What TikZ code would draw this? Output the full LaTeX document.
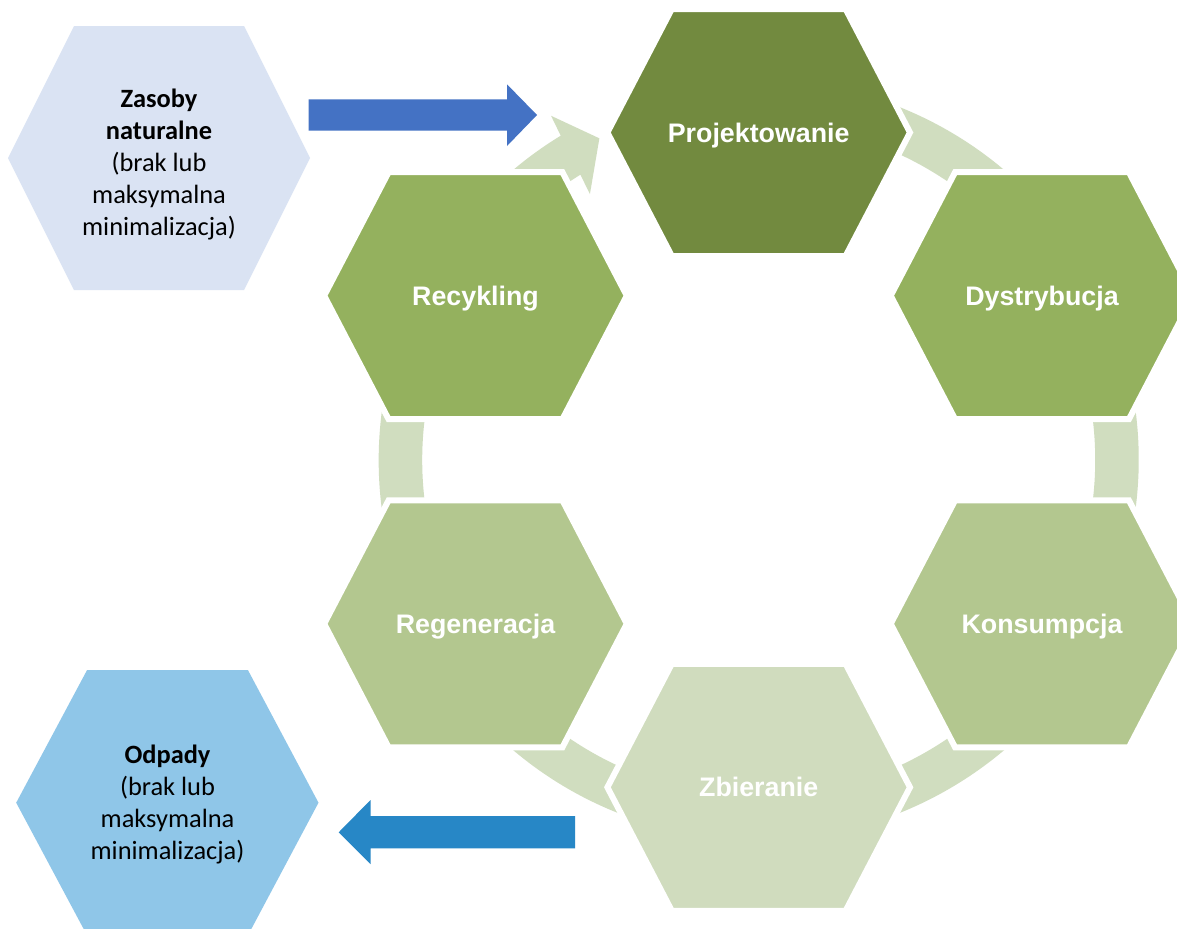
\documentclass[tikz,border=0pt]{standalone}
\usepackage{fontspec}
\setmainfont{Carlito}
\newfontfamily\lsans{Liberation Sans}
\usetikzlibrary{calc}
\definecolor{gDark}{RGB}{114,138,63}
\definecolor{gMid}{RGB}{148,177,94}
\definecolor{gLight}{RGB}{179,199,143}
\definecolor{gPale}{RGB}{208,220,190}
\definecolor{ringc}{RGB}{208,221,191}
\definecolor{zasc}{RGB}{218,227,243}
\definecolor{odpc}{RGB}{143,198,232}
\definecolor{arrA}{RGB}{68,114,196}
\definecolor{arrB}{RGB}{39,135,198}
\newcommand\ghexa[2]{\path[ghex, fill=#2, shift={#1}] (-151.3,0) -- (-86.9,-123.5) -- (86.9,-123.5) -- (151.3,0) -- (86.9,123.5) -- (-86.9,123.5) -- cycle;}
\begin{document}
\begin{tikzpicture}[x=0.5pt,y=-0.5pt,
  ghex/.style={draw=white, line width=3pt, line join=miter},
  lbl/.style={font=\lsans\bfseries\fontsize{13.4pt}{16pt}\selectfont, text=white, inner sep=0pt, anchor=base},
  blbl/.style={font=\fontsize{13.2pt}{16pt}\selectfont, text=black, inner sep=0pt, align=center}]
\useasboundingbox (0,0) rectangle (1177,928);
\fill[white] (0,0) rectangle (1177,928);
% ring with arrowhead
\coordinate (C) at (758.7,460);
\fill[ringc] ($(C)+(-121.4:380)$) arc[start angle=-121.4, end angle=-450, radius=380]
  -- ($(C)+(-450:336.5)$) arc[start angle=-450, end angle=-122.0, radius=336.5]
  -- ($(C)+(-122.4:315)$) -- ($(C)+(-116.35:359)$) -- ($(C)+(-121.1:402)$) -- cycle;
% green hexagons
\ghexa{(758.7,132.5)}{gDark}
\ghexa{(1042,295.7)}{gMid}
\ghexa{(1042,623.8)}{gLight}
\ghexa{(758.7,787.3)}{gPale}
\ghexa{(475.5,623.8)}{gLight}
\ghexa{(475.5,295.7)}{gMid}
\node[lbl] (proj) at (758.7,142) {Projektowanie};
\node[lbl] (dyst) at (1042,305.2) {Dystrybucja};
\node[lbl] (kons) at (1042,633.3) {Konsumpcja};
\node[lbl] (zbier) at (758.7,796.8) {Zbieranie};
\node[lbl] (regen) at (475.5,633.3) {Regeneracja};
\node[lbl] (recyk) at (475.5,305.2) {Recykling};
% blue hexagons
\fill[zasc, shift={(159,158)}] (-151,0) -- (-85,-132) -- (85,-132) -- (151,0) -- (85,132) -- (-85,132) -- cycle;
\fill[odpc, shift={(167.5,802.7)}] (-151.3,0) -- (-80.4,-132.7) -- (80.4,-132.7) -- (151,0) -- (80.4,132.7) -- (-80.4,132.7) -- cycle;
\node[blbl] (zasoby) at (159,164) {\textbf{Zasoby}\\\textbf{naturalne}\\(brak lub\\maksymalna\\minimalizacja)};
\node[blbl] (odpady) at (167.5,804) {\textbf{Odpady}\\(brak lub\\maksymalna\\minimalizacja)};
% block arrows
\fill[arrA] (308.5,99.3) -- (507,99.3) -- (507,84.3) -- (537,115) -- (507,146) -- (507,130.7) -- (308.5,130.7) -- cycle;
\fill[arrB] (575.2,816) -- (370.5,816) -- (370.5,800) -- (338.7,832.3) -- (370.5,864) -- (370.5,848.3) -- (575.2,848.3) -- cycle;
\end{tikzpicture}
\end{document}
